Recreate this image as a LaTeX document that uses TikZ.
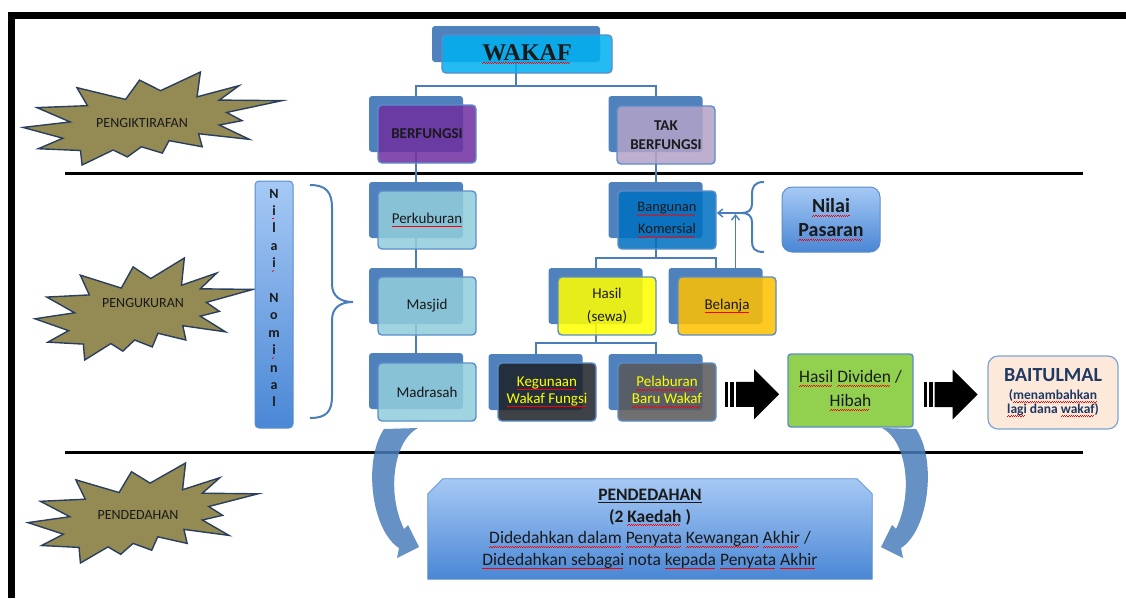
\documentclass[tikz,border=0pt]{standalone}
\usepackage{fontspec}
\setmainfont{Carlito}
\newfontfamily\titlefont{Liberation Serif}
\usetikzlibrary{arrows.meta,calc,backgrounds}

\definecolor{backblue}{HTML}{4F81BD}
\definecolor{frontline}{HTML}{5A8DCA}
\definecolor{linkblue}{HTML}{4A7EBB}
\definecolor{olivefill}{HTML}{948A54}
\definecolor{burstline}{HTML}{2A3F5F}
\definecolor{ink}{HTML}{1A1A1A}
\definecolor{cyanfill}{HTML}{00B0F0}
\definecolor{berfill}{HTML}{7030A0}
\definecolor{takfill}{HTML}{B3A2C7}
\definecolor{aquafill}{HTML}{92CDDC}
\definecolor{banfill}{HTML}{0070C0}
\definecolor{yelfill}{HTML}{FFFF00}
\definecolor{orafill}{HTML}{FFC000}
\definecolor{kegfill}{HTML}{1E2228}
\definecolor{pelfill}{HTML}{595959}
\definecolor{grnfill}{HTML}{92D050}
\definecolor{peach}{HTML}{FDE9D9}
\definecolor{navytext}{HTML}{1F3864}
\definecolor{gradtop}{HTML}{A6C9F5}
\definecolor{gradbot}{HTML}{4A87D5}
\definecolor{spell}{HTML}{FF0000}

\newcommand\fs[2]{\fontsize{#1}{#2}\selectfont}
% wavy red underline under a word
\newcommand\sq[1]{\leavevmode\setbox0\hbox{#1}\rlap{\copy0}\hbox to \wd0{\color{spell}\leaders\hbox{\rule[-3.6pt]{1.1pt}{0.7pt}\rule[-2.8pt]{1.1pt}{0.7pt}}\hfill}}

% explosion outline scaled into a box (x, y, width, height)
\newcommand\burst[4]{%
  \begin{scope}[shift={(#1,#2)},xscale=#3/100,yscale=#4/100]
    \filldraw[burstshape] (53.1,20.1) -- (68.5,0) -- (67.2,26.7) -- (83.4,14.7) -- (75.8,30.2) -- (100,30.8)
      -- (78.6,43.5) -- (84.6,52.3) -- (75.8,57.0) -- (87.4,72.4) -- (67.8,66.4) -- (69.2,80.4)
      -- (56.4,73.8) -- (53.8,87.2) -- (45.7,80.4) -- (40.3,91.3) -- (34.8,83.9) -- (22.8,100)
      -- (22.2,84.4) -- (5.9,82.5) -- (15.4,71.2) -- (0,59.6) -- (18.2,53.7) -- (5.4,38.3)
      -- (24.9,36.2) -- (20.8,16.8) -- (39.6,29.5) -- (45.0,8.7) -- cycle;
  \end{scope}}

% curved block arrow bending down and to the right
\newcommand\bendshape{%
  \fill[linkblue, fill opacity=0.85] (384,429) -- (418,428) .. controls (394,440) and (386,492) .. (404,529)
    -- (408,525) -- (419,547) -- (397,558) -- (399,548) .. controls (371,530) and (363,460) .. (384,429) -- cycle;}

\tikzset{
  backbox/.style={fill=backblue, rounded corners=3pt, minimum width=94pt, minimum height=56pt, inner sep=0pt},
  frontbox/.style={draw=frontline, line width=1.4pt, rounded corners=4pt, minimum width=98pt,
    minimum height=58pt, inner sep=2pt, fill opacity=0.86, text opacity=1, align=center,
    font=\fs{15}{21}, text=ink},
  link/.style={draw=linkblue, line width=2pt},
  divider/.style={draw=black, line width=3pt},
  burstshape/.style={fill=olivefill, draw=burstline, line width=1.4pt, line join=miter},
  bursttext/.style={font=\fs{14}{16}, text=ink},
  pointer/.style={draw=linkblue, line width=1.4pt, -{Straight Barb[length=5pt,width=8pt]}},
  bracket/.style={draw=linkblue, line width=2pt},
  gradbox/.style={top color=gradtop, bottom color=gradbot, draw=frontline, line width=1pt},
  blockarrow/.pic={
    \fill[black] (-27,-12.5) rectangle (-24,12.5);
    \fill[black] (-22,-12.5) rectangle (-18,12.5);
    \fill[black] (-16,-12.5) -- (2,-12.5) -- (2,-25) -- (27,0) -- (2,25) -- (2,12.5) -- (-16,12.5) -- cycle;
  }
}

\begin{document}
\begin{tikzpicture}[x=1pt,y=-1pt]
\useasboundingbox (0,0) rectangle (1126,598);

% page frame
\fill[black] (8,12) rectangle (1126,19);
\fill[black] (8,12) rectangle (15,598);

% section dividers
\draw[divider] (65,173) -- (1083,173);
\draw[divider] (65,452) -- (1083,452);

% section labels
\burst{23}{72}{259}{93}
\node[bursttext] (lab1) at (142,123) {PENGIKTIRAFAN};
\burst{35}{258}{218}{102}
\node[bursttext] (lab2) at (143,303) {PENGUKURAN};
\burst{28}{463}{230}{100}
\node[bursttext] (lab3) at (138,515) {PENDEDAHAN};

% back plates of the stacked boxes
\node[backbox, minimum width=168pt, minimum height=36pt] (wakafB) at (516,44) {};
\node[backbox] (berB) at (416,124) {};
\node[backbox] (takB) at (655.5,124) {};
\node[backbox] (perB) at (416,210) {};
\node[backbox] (masB) at (416,296) {};
\node[backbox] (madB) at (416,381) {};
\node[backbox] (banB) at (655.5,210) {};
\node[backbox] (hasB) at (595.5,296) {};
\node[backbox] (belB) at (715.5,296) {};
\node[backbox] (kegB) at (535.5,382) {};
\node[backbox] (pelB) at (655.5,382) {};

% tree connectors
\coordinate (j1) at (516,86);
\draw[link] (wakafB.south) -- (j1);
\draw[link] (berB.north) |- (j1) -| (takB.north);
\draw[link] (berB.south) -- (perB.north);
\draw[link] (perB.south) -- (masB.north);
\draw[link] (masB.south) -- (madB.north);
\draw[link] (takB.south) -- (banB.north);
\coordinate (j2) at (655.5,258);
\draw[link] (banB.south) -- (j2);
\draw[link] (hasB.north) |- (j2) -| (belB.north);
\coordinate (j3) at (595.5,343);
\draw[link] (hasB.south) -- (j3);
\draw[link] (kegB.north) |- (j3) -| (pelB.north);

% front boxes
\node[frontbox, minimum width=170pt, minimum height=38pt, fill=cyanfill] (wakaf) at (527,54)
  {\titlefont\bfseries\fs{24}{24}\sq{WAKAF}};
\node[frontbox, fill=berfill] (ber) at (427,134) {\bfseries BERFUNGSI};
\node[frontbox, fill=takfill, font=\fs{15}{19}] (tak) at (666,135) {\bfseries TAK\\\bfseries BERFUNGSI};
\node[frontbox, fill=aquafill] (per) at (427,220) {\sq{Perkuburan}};
\node[frontbox, fill=aquafill] (mas) at (427,306) {Masjid};
\node[frontbox, fill=aquafill] (mad) at (427,392) {Madrasah};
\node[frontbox, fill=banfill, font=\fs{14.5}{22}] (ban) at (667,220) {\sq{Bangunan}\\\sq{Komersial}};
\node[frontbox, fill=yelfill, font=\fs{15}{23}] (has) at (607,306) {Hasil\\(sewa)};
\node[frontbox, fill=orafill] (bel) at (727,306) {\sq{Belanja}};
\node[frontbox, fill=kegfill, text=yelfill, font=\fs{15}{17}] (keg) at (547,392) {\sq{Kegunaan}\\\sq{Wakaf Fungsi}};
\node[frontbox, fill=pelfill, text=yelfill, font=\fs{15}{17}] (pel) at (667,392) {\sq{Pelaburan}\\\sq{Baru Wakaf}};

% nominal value column and its brace
\node[gradbox, rounded corners=4pt, minimum width=38pt, minimum height=247pt] (nom) at (274,304.5) {};
\node[font=\fs{14}{17.4}\bfseries, align=center, text=ink] (nomtxt) at (274,298)
  {N\\\sq{i}\\l\\a\\\sq{i}\\\mbox{}\\N\\o\\m\\\sq{i}\\n\\a\\l};
\draw[bracket] (310,185) .. controls (326,185) and (332,192) .. (332,208) -- (332,284)
  .. controls (332,296) and (340,302) .. (353,302) .. controls (340,302) and (332,308) .. (332,320)
  -- (332,396) .. controls (332,412) and (326,418) .. (310,418);

% market value box, brace and pointers
\node[gradbox, rounded corners=10pt, minimum width=98pt, minimum height=65pt, align=center,
  font=\fs{20}{24}\bfseries, text=ink] (pas) at (831,219.5) {\sq{Nilai}\\\sq{Pasaran}};
\coordinate (btip) at (742,213);
\draw[bracket] (764,182) .. controls (754,182) and (752,187) .. (752,195) -- (752,204)
  .. controls (752,210) and (748,213) .. (btip) .. controls (748,213) and (752,216) .. (752,222)
  -- (752,241) .. controls (752,248) and (754,252) .. (764,252);
\draw[pointer] (btip) -- (btip -| ban.east);
\draw[pointer] ([xshift=20pt]belB.north) -- ([xshift=20pt,yshift=-1pt]belB.north |- btip);

% dividend and baitulmal
\node[draw=frontline, line width=1.4pt, rounded corners=3pt, fill=grnfill, minimum width=125pt,
  minimum height=73pt, align=center, font=\fs{17.5}{24}, text=ink] (div) at (850.5,390.5)
  {\sq{Hasil} \sq{Dividen} /\\\sq{Hibah}};
\node[draw=frontline!80, line width=1.2pt, rounded corners=10pt, fill=peach, minimum width=130pt,
  minimum height=73pt, align=center, font=\fs{13.5}{14}\bfseries, text=navytext] (bait) at (1053,392.5)
  {{\fs{20}{20}\bfseries BAITULMAL}\\[4pt](\sq{menambahkan}\\\sq{lagi} dana \sq{wakaf})};
\pic at ($(pel.east)!0.5!(div.west)+(0,3)$) {blockarrow};
\pic at ($(div.east)!0.5!(bait.west)+(0,3)$) {blockarrow};

% disclosure box
\node[minimum width=444pt, minimum height=100pt, align=center, font=\fs{17.5}{21.7}, text=ink] (pend) at (650,529)
  {\textbf{\underline{PENDEDAHAN}}\\
   \textbf{(2 \sq{Kaedah} )}\\
   \sq{Didedahkan dalam} \sq{Penyata} \sq{Kewangan} \sq{Akhir} /\\
   \sq{Didedahkan sebagai} nota \sq{kepada} \sq{Penyata} \sq{Akhir}};
\begin{scope}[on background layer]
  \shade[top color=gradtop, bottom color=gradbot, draw=frontline, line width=0.8pt]
    (pend.south west) -- ([yshift=-15pt]pend.north west) -- ([xshift=15pt]pend.north west)
    -- ([xshift=-15pt]pend.north east) -- ([yshift=-15pt]pend.north east) -- (pend.south east) -- cycle;
\end{scope}

% curved arrows into the disclosure box
\bendshape
\begin{scope}[xshift=1300pt, xscale=-1]
  \bendshape
\end{scope}
\end{tikzpicture}
\end{document}
